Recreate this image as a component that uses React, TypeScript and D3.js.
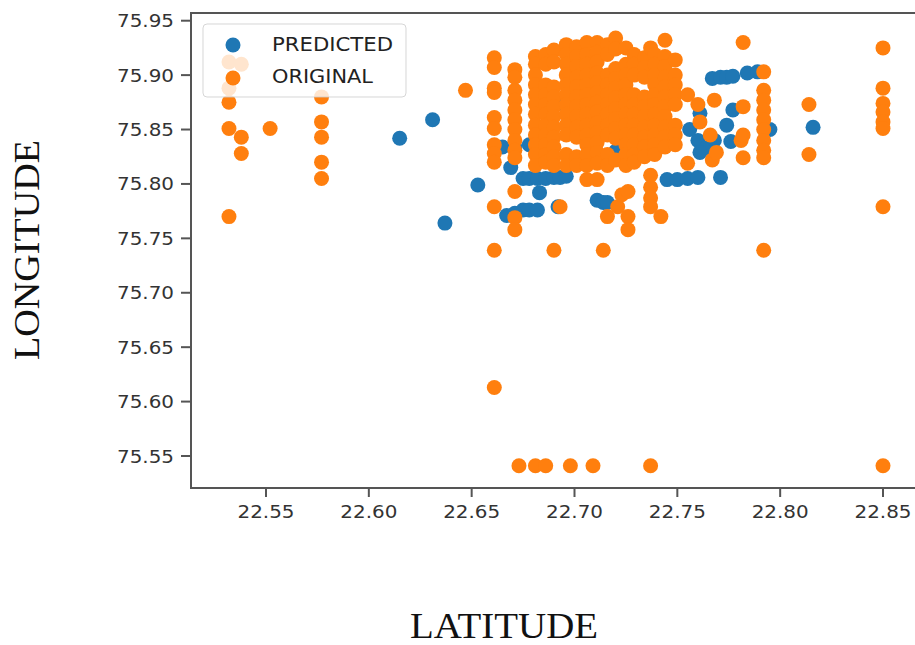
import React from "react";
import * as d3 from "d3";

// ---- Data (latitude, longitude) ----
const xTicks = [22.55, 22.6, 22.65, 22.7, 22.75, 22.8, 22.85];
const yTicks = [75.55, 75.6, 75.65, 75.7, 75.75, 75.8, 75.85, 75.9, 75.95];

const predictedOutliers: [number, number][] = [
  [22.615, 75.842], [22.631, 75.859], [22.637, 75.764], [22.653, 75.799], [22.816, 75.852],
];
const predictedUpperLine: [number, number][] = [
  [22.767, 75.897], [22.771, 75.898], [22.774, 75.898], [22.777, 75.899], [22.784, 75.902], [22.789, 75.903],
];
const predictedLowerBand: [number, number][] = [
  [22.665, 75.834], [22.671, 75.834], [22.678, 75.836], [22.687, 75.836], [22.669, 75.815],
  [22.675, 75.805], [22.678, 75.805], [22.682, 75.805], [22.686, 75.805], [22.690, 75.806],
  [22.693, 75.806], [22.696, 75.807], [22.683, 75.792], [22.675, 75.776], [22.678, 75.776],
  [22.682, 75.776], [22.667, 75.771], [22.671, 75.773], [22.692, 75.779], [22.711, 75.785],
  [22.714, 75.783], [22.716, 75.783], [22.745, 75.804], [22.750, 75.804], [22.755, 75.805],
  [22.760, 75.806], [22.771, 75.806],
];
const predictedMidRight: [number, number][] = [
  [22.761, 75.865], [22.777, 75.868], [22.760, 75.840], [22.764, 75.833], [22.768, 75.840],
  [22.774, 75.854], [22.776, 75.839], [22.747, 75.839], [22.761, 75.829], [22.795, 75.850],
  [22.756, 75.850],
];
const predictedHidden: [number, number][] = [
  [22.716, 75.891], [22.694, 75.874], [22.730, 75.860], [22.705, 75.845], [22.720, 75.830], [22.740, 75.880],
];

// Original: columns of [latitude, longitudes]
const originalLeftColumns: [number, number[]][] = [
  [22.532, [75.912, 75.888, 75.875, 75.851, 75.770]],
  [22.538, [75.910, 75.843, 75.828]],
  [22.552, [75.851]],
  [22.577, [75.880, 75.857, 75.843, 75.820, 75.805]],
  [22.647, [75.886]],
];
const originalClusterColumns: [number, number[]][] = [
  [22.661, [75.916, 75.907, 75.888, 75.884, 75.861, 75.851, 75.836, 75.828, 75.820, 75.779, 75.739, 75.613]],
  [22.671, [75.905, 75.898, 75.886, 75.877, 75.868, 75.859, 75.850, 75.840, 75.831, 75.824, 75.793, 75.769, 75.758]],
  [22.673, [75.541]],
  [22.681, [75.917, 75.910, 75.900, 75.891, 75.882, 75.873, 75.864, 75.854, 75.845, 75.836, 75.827, 75.817, 75.541]],
  [22.686, [75.919, 75.910, 75.891, 75.882, 75.873, 75.864, 75.854, 75.845, 75.836, 75.827, 75.820, 75.541]],
  [22.690, [75.923, 75.912, 75.889, 75.880, 75.871, 75.862, 75.852, 75.843, 75.834, 75.825, 75.817, 75.739]],
  [22.693, [75.779]],
  [22.696, [75.928, 75.919, 75.910, 75.900, 75.891, 75.882, 75.873, 75.864, 75.854, 75.845, 75.827, 75.817]],
  [22.698, [75.541]],
  [22.701, [75.926, 75.917, 75.908, 75.898, 75.889, 75.880, 75.871, 75.862, 75.852, 75.843, 75.825, 75.817]],
  [22.706, [75.930, 75.919, 75.910, 75.900, 75.891, 75.882, 75.873, 75.864, 75.854, 75.845, 75.836, 75.827, 75.817, 75.804]],
  [22.709, [75.541]],
  [22.711, [75.930, 75.921, 75.912, 75.902, 75.893, 75.884, 75.875, 75.866, 75.856, 75.847, 75.838, 75.829, 75.819, 75.804]],
  [22.714, [75.739]],
  [22.716, [75.928, 75.919, 75.900, 75.891, 75.882, 75.873, 75.864, 75.854, 75.845, 75.827, 75.817, 75.770]],
  [22.720, [75.934, 75.924, 75.906, 75.897, 75.888, 75.879, 75.869, 75.860, 75.851, 75.842, 75.822]],
  [22.721, [75.779]],
  [22.723, [75.790]],
  [22.725, [75.925, 75.910, 75.900, 75.891, 75.882, 75.873, 75.864, 75.854, 75.845, 75.836, 75.827, 75.817]],
  [22.726, [75.793, 75.770, 75.758]],
  [22.729, [75.919, 75.910, 75.900, 75.882, 75.873, 75.864, 75.854, 75.845, 75.836, 75.827, 75.820]],
  [22.734, [75.916, 75.907, 75.898, 75.880, 75.871, 75.862, 75.852, 75.843, 75.834, 75.825]],
  [22.737, [75.925, 75.808, 75.797, 75.787, 75.779, 75.541]],
  [22.739, [75.919, 75.910, 75.900, 75.891, 75.882, 75.873, 75.864, 75.854, 75.845, 75.836, 75.827]],
  [22.742, [75.770]],
  [22.744, [75.932, 75.917, 75.908, 75.898, 75.889, 75.880, 75.871, 75.862, 75.852, 75.843, 75.834]],
  [22.749, [75.914, 75.900, 75.891, 75.882, 75.873, 75.854, 75.845, 75.836]],
  [22.755, [75.882, 75.819]],
  [22.760, [75.873]],
  [22.761, [75.857]],
  [22.766, [75.845]],
  [22.767, [75.822]],
  [22.768, [75.877]],
  [22.769, [75.829]],
  [22.781, [75.840]],
  [22.782, [75.930, 75.871, 75.845, 75.824]],
  [22.792, [75.903, 75.886, 75.877, 75.868, 75.859, 75.850, 75.840, 75.831, 75.824, 75.739]],
];
const originalRightColumns: [number, number[]][] = [
  [22.814, [75.873, 75.827]],
  [22.850, [75.925, 75.888, 75.874, 75.866, 75.857, 75.851, 75.779, 75.541]],
];

const seriesNames = ["PREDICTED", "ORIGINAL"];
const seriesColors = ["#1f77b4", "#ff7f0e"];

// ---- Layout ----
const W = 915;
const H = 645;
const plotLeft = 191;
const plotTop = 13;
const plotBottom = 488;
const plotRight = 940;
const R = 7.5;

export default function App() {
  const x = d3.scaleLinear().domain([22.55, 22.85]).range([266, 883]);
  const y = d3.scaleLinear().domain([75.55, 75.95]).range([456, 20.7]);

  const predicted = [
    ...predictedOutliers,
    ...predictedUpperLine,
    ...predictedLowerBand,
    ...predictedMidRight,
    ...predictedHidden,
  ];
  const original: [number, number][] = [
    ...originalLeftColumns,
    ...originalClusterColumns,
    ...originalRightColumns,
  ].flatMap(([lat, lons]) => lons.map((lon) => [lat, lon] as [number, number]));

  const tickFont = "DejaVu Sans, sans-serif";
  const fmt = d3.format(".2f");

  return (
    <div style={{ position: "absolute", left: 0, top: 0 }}>
      <svg width={W} height={H} style={{ display: "block", background: "#fff" }}>
        <defs>
          <clipPath id="plotclip">
            <rect x={plotLeft} y={plotTop} width={plotRight - plotLeft} height={plotBottom - plotTop} />
          </clipPath>
        </defs>
        <rect x={0} y={0} width={W} height={H} fill="#fff" />
        <g clipPath="url(#plotclip)">
          {predicted.map(([lat, lon], i) => (
            <circle key={"p" + i} cx={x(lat)} cy={y(lon)} r={R} fill={seriesColors[0]} />
          ))}
          {original.map(([lat, lon], i) => (
            <circle key={"o" + i} cx={x(lat)} cy={y(lon)} r={R} fill={seriesColors[1]} />
          ))}
        </g>
        {/* spines */}
        <rect
          x={plotLeft}
          y={plotTop}
          width={plotRight - plotLeft}
          height={plotBottom - plotTop}
          fill="none"
          stroke="#555"
          strokeWidth={2}
        />
        {/* y ticks */}
        {yTicks.map((t) => (
          <g key={"yt" + t}>
            <line x1={plotLeft - 10} x2={plotLeft} y1={y(t)} y2={y(t)} stroke="#555" strokeWidth={2} />
            <text
              x={174}
              y={y(t)}
              textAnchor="end"
              dominantBaseline="central"
              fontFamily={tickFont}
              fontSize={18}
              fill="#333"
              textLength={57}
              lengthAdjust="spacingAndGlyphs"
            >
              {fmt(t)}
            </text>
          </g>
        ))}
        {/* x ticks */}
        {xTicks.map((t) => (
          <g key={"xt" + t}>
            <line x1={x(t)} x2={x(t)} y1={plotBottom} y2={plotBottom + 9} stroke="#555" strokeWidth={2} />
            <text
              x={x(t)}
              y={511}
              textAnchor="middle"
              dominantBaseline="central"
              fontFamily={tickFont}
              fontSize={18}
              fill="#333"
              textLength={57}
              lengthAdjust="spacingAndGlyphs"
            >
              {fmt(t)}
            </text>
          </g>
        ))}
        {/* legend */}
        <rect x={203} y={24} width={203} height={73} rx={4} fill="#fff" fillOpacity={0.8} stroke="#ccc" strokeOpacity={0.8} />
        {seriesNames.map((name, i) => (
          <g key={name}>
            <circle cx={233} cy={45 + i * 33} r={R} fill={seriesColors[i]} />
            <text
              x={272}
              y={51 + i * 32}
              fontFamily={tickFont}
              fontSize={20}
              fill="#222"
              textLength={i === 0 ? 121 : 101}
              lengthAdjust="spacingAndGlyphs"
            >
              {name}
            </text>
          </g>
        ))}
        {/* axis titles */}
        <text
          x={504}
          y={638}
          textAnchor="middle"
          fontFamily="Liberation Serif, Times New Roman, serif"
          fontSize={36}
          fill="#111"
          textLength={188}
          lengthAdjust="spacingAndGlyphs"
        >
          LATITUDE
        </text>
        <text
          transform="translate(39,250) rotate(-90)"
          textAnchor="middle"
          fontFamily="Liberation Serif, Times New Roman, serif"
          fontSize={36}
          fill="#111"
          textLength={220}
          lengthAdjust="spacingAndGlyphs"
        >
          LONGITUDE
        </text>
      </svg>
    </div>
  );
}
